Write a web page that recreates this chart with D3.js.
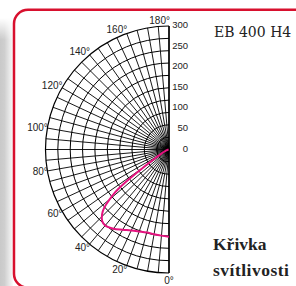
<!DOCTYPE html>
<html><head><meta charset="utf-8">
<script src="https://cdn.jsdelivr.net/npm/d3@7"></script>
<style>html,body{margin:0;padding:0;background:#fff;}svg{display:block;}</style>
</head><body>
<script>
// ---- data ----
const curveAngles = [0,5,10,15,20,25,30,35,40,43,46,48,50,51,52,53,54,55,56,58,60,65,70,80,90];
const curveValues = [212,210,209,209,212,217,225,235,241,238,226,212,188,175,158,135,105,78,58,38,26,13,7,3,1];
const angleTicks = [0,20,40,60,80,100,120,140,160,180];
const angleLabels = ["0°","20°","40°","60°","80°","100°","120°","140°","160°","180°"];
const radialTicks = [0,50,100,150,200,250,300];
const radialLabels = ["0","50","100","150","200","250","300"];
const ringValues = [30,60,90,120,150,180,210,240,270,300];
const spokeStep = 5;
const title = "EB 400 H4";
const caption = ["Křivka","svítlivosti"];

// ---- layout ----
const W = 296, H = 286;
const cx = 169, cy = 149.5, R = 123.5;
const svg = d3.select("body").append("svg").attr("width", W).attr("height", H);
const defs = svg.append("defs");

const g1 = defs.append("linearGradient").attr("id","sh").attr("x1",0).attr("x2",1).attr("y1",0).attr("y2",0);
g1.append("stop").attr("offset","0%").attr("stop-color","#c9c9c9");
g1.append("stop").attr("offset","35%").attr("stop-color","#cfcfcf");
g1.append("stop").attr("offset","100%").attr("stop-color","#fafafa");
const g2 = defs.append("linearGradient").attr("id","fade").attr("x1",0).attr("x2",0).attr("y1",0).attr("y2",1);
g2.append("stop").attr("offset","0%").attr("stop-color","#fff").attr("stop-opacity",0);
g2.append("stop").attr("offset","8%").attr("stop-color","#fff").attr("stop-opacity",1);
g2.append("stop").attr("offset","100%").attr("stop-color","#fff").attr("stop-opacity",1);
const m = defs.append("mask").attr("id","fm");
m.append("rect").attr("x",0).attr("y",18).attr("width",13).attr("height",H-18).attr("fill","url(#fade)");
svg.append("rect").attr("x",0).attr("y",18).attr("width",13).attr("height",H-18)
  .attr("fill","url(#sh)").attr("mask","url(#fm)");

// frame
svg.append("rect").attr("x",14).attr("y",9.7).attr("width",320).attr("height",278)
  .attr("rx",14).attr("ry",14).attr("fill","#fff").attr("stroke","#d8102e").attr("stroke-width",2.5);

const r = d3.scaleLinear().domain([0,300]).range([0,R]);
const toRad = d => d*Math.PI/180;
const pt = (deg, rad) => [cx - Math.sin(toRad(deg))*rad, cy + Math.cos(toRad(deg))*rad];

const grid = svg.append("g").attr("stroke","#000").attr("fill","none");
ringValues.forEach(v => {
  const p = d3.path();
  p.arc(cx, cy, r(v), Math.PI/2, 3*Math.PI/2, false);
  grid.append("path").attr("d", p.toString()).attr("stroke-width", v===300?1.2:1);
});
d3.range(0, 181, spokeStep).forEach(a => {
  const [x,y] = pt(a, R);
  grid.append("line").attr("x1",cx).attr("y1",cy).attr("x2",x).attr("y2",y).attr("stroke-width",0.9);
});
grid.append("line").attr("x1",cx).attr("x2",cx).attr("y1",cy-R).attr("y2",cy+R).attr("stroke-width",1.5);

// curve
const line = d3.lineRadial()
  .angle(d => Math.PI + toRad(d[0]))
  .radius(d => r(d[1]))
  .curve(d3.curveCatmullRom);
svg.append("path").attr("transform",`translate(${cx},${cy})`)
  .attr("d", line(curveAngles.map((a,i)=>[a,curveValues[i]])))
  .attr("fill","none").attr("stroke","#e5127f").attr("stroke-width",2);

// angle labels
const al = svg.append("g").attr("font-family","'Liberation Sans', Arial, sans-serif")
  .attr("font-size",10).attr("fill","#222");
angleTicks.forEach((a,i) => {
  let [x,y] = pt(a, R);
  let anchor = "end";
  x += 0.5;
  y += Math.cos(toRad(a))*4;
  if (a===180) { x = cx+1; y = cy-R-6; }
  if (a===0) { x = cx; y = cy+R+7.5; anchor = "middle"; }
  al.append("text").attr("x",x).attr("y",y).attr("text-anchor",anchor)
    .attr("dominant-baseline","central").text(angleLabels[i]);
});
// radial labels
const rl = svg.append("g").attr("font-family","'Liberation Sans', Arial, sans-serif")
  .attr("font-size",9.5).attr("fill","#222");
radialTicks.forEach((v,i) => {
  rl.append("text").attr("x",188).attr("y",cy - r(v) - 1.5).attr("text-anchor","end")
    .attr("dominant-baseline","central").text(radialLabels[i]);
});

// texts
svg.append("text").attr("x",214).attr("y",37.3).attr("font-family","'DejaVu Serif', serif")
  .attr("font-size",14).attr("fill","#222").text(title);
svg.append("text").attr("x",213).attr("y",250).attr("font-family","'Liberation Serif', serif")
  .attr("font-weight","bold").attr("font-size",17.5).attr("fill","#222").text(caption[0]);
svg.append("text").attr("x",213).attr("y",276).attr("font-family","'Liberation Serif', serif")
  .attr("font-weight","bold").attr("font-size",17.5).attr("letter-spacing",0.5).attr("fill","#222").text(caption[1]);
</script>
</body></html>
